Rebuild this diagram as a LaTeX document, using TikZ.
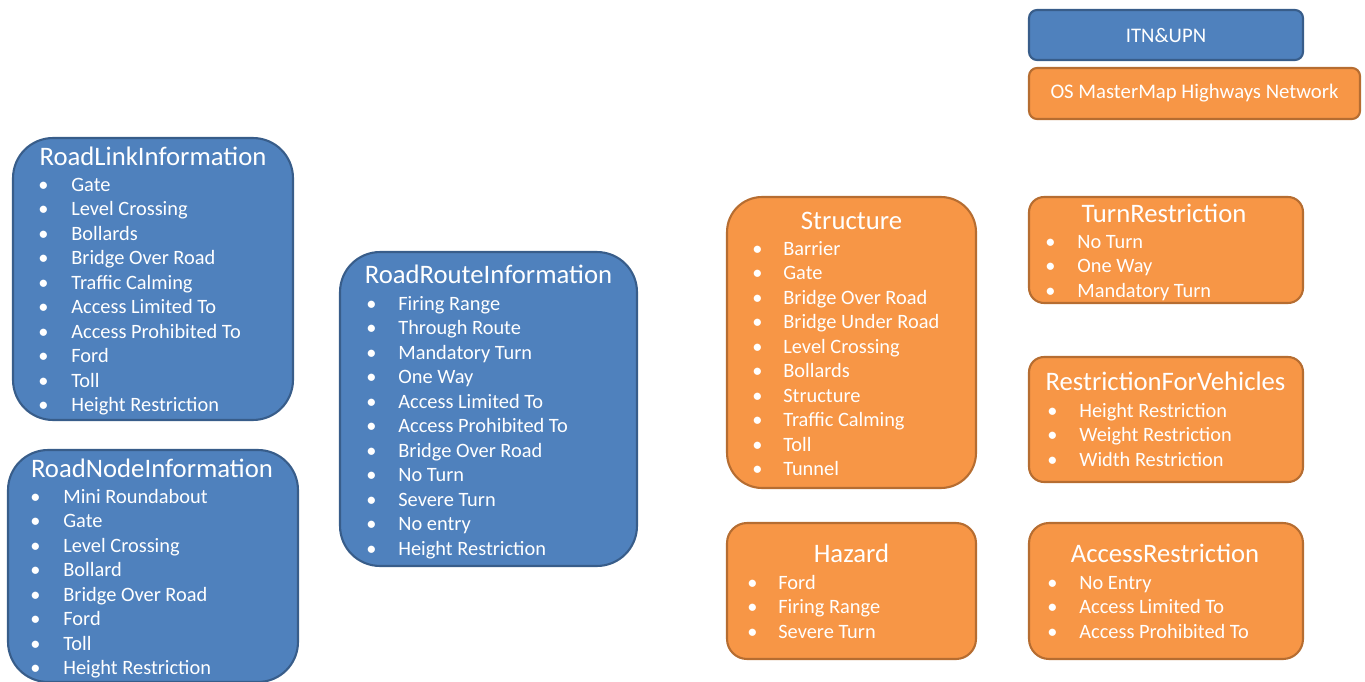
\documentclass[tikz,border=0pt]{standalone}
\usepackage{fontspec}
\setmainfont{Carlito}

\definecolor{boxblue}{HTML}{4F81BD}
\definecolor{lineblue}{HTML}{385D8A}
\definecolor{boxorange}{HTML}{F79646}
\definecolor{lineorange}{HTML}{B66D31}

\tikzset{
  bluebox/.style={draw=lineblue, fill=boxblue, line width=1.2pt},
  orangebox/.style={draw=lineorange, fill=boxorange, line width=1.2pt},
  boxtitle/.style={text=white, font=\fontsize{15.2}{18}\selectfont, inner sep=0pt, text height=10pt, text depth=3pt},
  entry/.style={text=white, font=\fontsize{11.6}{14}\selectfont, anchor=west, inner sep=0pt, text height=8pt, text depth=2.5pt},
  legendtext/.style={text=white, font=\fontsize{11.8}{14}\selectfont, inner sep=0pt},
}

\begin{document}
\begin{tikzpicture}[x=0.02cm, y=-0.02cm]
    \useasboundingbox (0,0) rectangle (1365,682);

    % legend
    \node[bluebox, rounded corners=0.16cm, minimum width=5.48cm, minimum height=1cm] (itn) at (1166,35) {};
    \node[legendtext] (itntext) at (itn.center) {ITN\&UPN};
    \node[orangebox, rounded corners=0.16cm, minimum width=6.62cm, minimum height=1.02cm] (osmm) at (1194.5,93.5) {};
    \node[legendtext] (osmmtext) at (osmm.center) {OS MasterMap Highways Network};

    % blue boxes
    \node[bluebox, rounded corners=0.8cm, minimum width=5.6cm, minimum height=5.64cm] (roadlink) at (153,279) {};
    \node[boxtitle] (roadlinktitle) at (153,159) {RoadLinkInformation};
    \foreach \t [count=\i from 0] in {Gate, Level Crossing, Bollards, Bridge Over Road, Traffic Calming,
        Access Limited To, Access Prohibited To, Ford, Toll, Height Restriction} {
        \node[entry] (rlb\i) at (38,186.5+24.5*\i) {\textbullet};
        \node[entry] (rl\i) at (71,186.5+24.5*\i) {\t};
    }

    \node[bluebox, rounded corners=0.8cm, minimum width=5.8cm, minimum height=4.64cm] (roadnode) at (153,566) {};
    \node[boxtitle] (roadnodetitle) at (152,471) {RoadNodeInformation};
    \foreach \t [count=\i from 0] in {Mini Roundabout, Gate, Level Crossing, Bollard, Bridge Over Road,
        Ford, Toll, Height Restriction} {
        \node[entry] (rnb\i) at (30,498.5+24.5*\i) {\textbullet};
        \node[entry] (rn\i) at (63,498.5+24.5*\i) {\t};
    }

    \node[bluebox, rounded corners=0.8cm, minimum width=5.94cm, minimum height=6.28cm] (roadroute) at (488.5,409) {};
    \node[boxtitle] (roadroutetitle) at (488.5,277) {RoadRouteInformation};
    \foreach \t [count=\i from 0] in {Firing Range, Through Route, Mandatory Turn, One Way, Access Limited To,
        Access Prohibited To, Bridge Over Road, No Turn, Severe Turn, No entry, Height Restriction} {
        \node[entry] (rrb\i) at (366,305.5+24.5*\i) {\textbullet};
        \node[entry] (rr\i) at (398,305.5+24.5*\i) {\t};
    }

    % orange boxes
    \node[orangebox, rounded corners=0.7cm, minimum width=4.98cm, minimum height=5.82cm] (structure) at (851.5,342.5) {};
    \node[boxtitle] (structuretitle) at (851.5,223) {Structure};
    \foreach \t [count=\i from 0] in {Barrier, Gate, Bridge Over Road, Bridge Under Road, Level Crossing,
        Bollards, Structure, Traffic Calming, Toll, Tunnel} {
        \node[entry] (stb\i) at (752,250.5+24.5*\i) {\textbullet};
        \node[entry] (st\i) at (783,250.5+24.5*\i) {\t};
    }

    \node[orangebox, rounded corners=0.4cm, minimum width=4.98cm, minimum height=2.72cm] (hazard) at (851.5,591) {};
    \node[boxtitle] (hazardtitle) at (851.5,556) {Hazard};
    \foreach \t [count=\i from 0] in {Ford, Firing Range, Severe Turn} {
        \node[entry] (hzb\i) at (747,584.5+24.5*\i) {\textbullet};
        \node[entry] (hz\i) at (778,584.5+24.5*\i) {\t};
    }

    \node[orangebox, rounded corners=0.3cm, minimum width=5.48cm, minimum height=2.12cm] (turn) at (1166,250) {};
    \node[boxtitle] (turntitle) at (1164,216) {TurnRestriction};
    \foreach \t [count=\i from 0] in {No Turn, One Way, Mandatory Turn} {
        \node[entry] (trb\i) at (1045,243.5+24.5*\i) {\textbullet};
        \node[entry] (tr\i) at (1077,243.5+24.5*\i) {\t};
    }

    \node[orangebox, rounded corners=0.3cm, minimum width=5.48cm, minimum height=2.5cm] (vehicles) at (1166,419.5) {};
    \node[boxtitle] (vehiclestitle) at (1165.5,384) {RestrictionForVehicles};
    \foreach \t [count=\i from 0] in {Height Restriction, Weight Restriction, Width Restriction} {
        \node[entry] (rvb\i) at (1047,412.5+24.5*\i) {\textbullet};
        \node[entry] (rv\i) at (1079,412.5+24.5*\i) {\t};
    }

    \node[orangebox, rounded corners=0.4cm, minimum width=5.48cm, minimum height=2.72cm] (access) at (1166,591) {};
    \node[boxtitle] (accesstitle) at (1165,556) {AccessRestriction};
    \foreach \t [count=\i from 0] in {No Entry, Access Limited To, Access Prohibited To} {
        \node[entry] (arb\i) at (1047,584.5+24.5*\i) {\textbullet};
        \node[entry] (ar\i) at (1079,584.5+24.5*\i) {\t};
    }
\end{tikzpicture}
\end{document}
